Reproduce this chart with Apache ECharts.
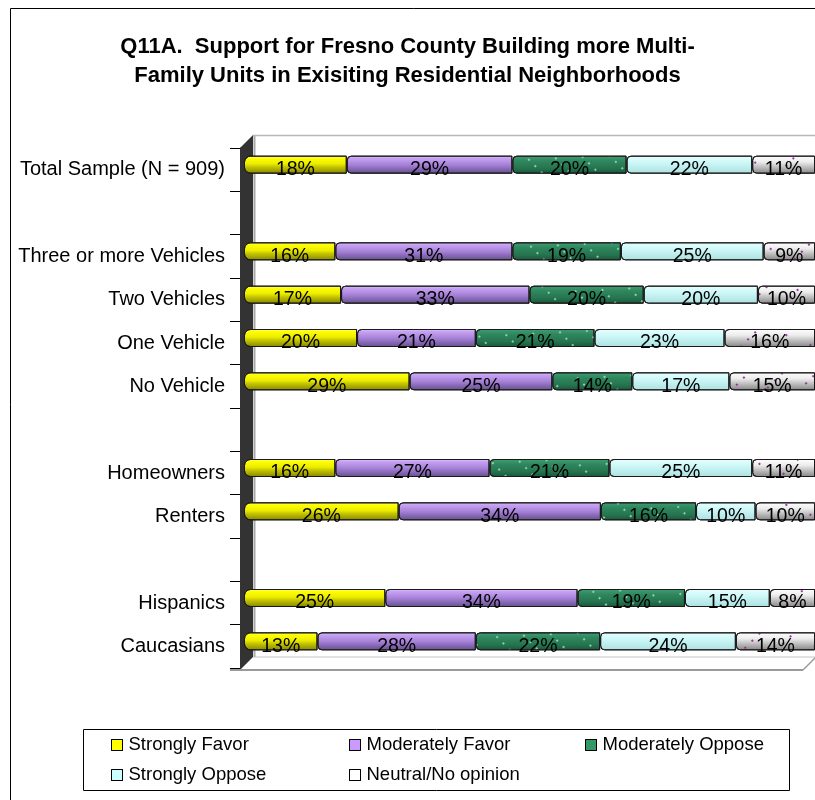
<!DOCTYPE html>
<html>
<head>
<meta charset="utf-8">
<script src="https://cdn.jsdelivr.net/npm/echarts@6/dist/echarts.min.js"></script>
<style>
  html, body { margin: 0; padding: 0; background: #fff; }
  #chart { width: 815px; height: 800px; }
</style>
</head>
<body>
<div id="chart"></div>
<script>
// Row labels (blank rows separate the groups)
const categories = [
  'Total Sample (N = 909)', '',
  'Three or more Vehicles', 'Two Vehicles', 'One Vehicle', 'No Vehicle', ' ',
  'Homeowners', 'Renters', '  ',
  'Hispanics', 'Caucasians'
];

// Survey shares in percent, one array per answer
const strongFavor  = [18, null, 16, 17, 20, 29, null, 16, 26, null, 25, 13];
const modFavor     = [29, null, 31, 33, 21, 25, null, 27, 34, null, 34, 28];
const modOppose    = [20, null, 19, 20, 21, 14, null, 21, 16, null, 19, 22];
const strongOppose = [22, null, 25, 20, 23, 17, null, 25, 10, null, 15, 24];
const neutral      = [11, null,  9, 10, 16, 15, null, 11, 10, null,  8, 14];

const seriesNames = ['Strongly Favor', 'Moderately Favor', 'Moderately Oppose', 'Strongly Oppose', 'Neutral/No opinion'];
const seriesValues = [strongFavor, modFavor, modOppose, strongOppose, neutral];

// Geometry of the pseudo-3D frame
const AXIS_X = 240, AXIS_TOP = 148, AXIS_H = 520;
const AXIS_BOTTOM = AXIS_TOP + AXIS_H;
const DEPTH = 13;
const BAR_LEFT = 244, BAR_SPAN = 571, BAR_RAISE = 5;
const FONT = 'Arial, "Liberation Sans", sans-serif';

// 100% stacked: each row is scaled to its own total
const rowTotals = categories.map((_, i) =>
  seriesValues.reduce((s, arr) => s + (arr[i] == null ? 0 : arr[i]), 0));

function grad(stops) {
  return new echarts.graphic.LinearGradient(0, 0, 0, 1,
    stops.map(([offset, color]) => ({ offset, color })));
}

const fills = [
  grad([[0, '#fbfb9a'], [0.14, '#ffff00'], [0.45, '#ecec00'], [0.62, '#c6c600'], [1, '#858500']]),
  grad([[0, '#e2ccff'], [0.14, '#c7a2f4'], [0.5, '#a783d8'], [0.7, '#8c6cbc'], [1, '#65508a']]),
  grad([[0, '#3f9f72'], [0.3, '#2f875e'], [0.7, '#25744f'], [1, '#185638']]),
  grad([[0, '#e8ffff'], [0.4, '#ccf7f7'], [1, '#ace0e0']]),
  grad([[0, '#ffffff'], [0.35, '#ececec'], [0.7, '#b4b4b4'], [1, '#858585']])
];
const legendFills = ['#ffff00', '#cc99ff', '#339966', '#ccffff', '#ffffff'];
// dotted texture only on the two patterned answers
const plain = { symbol: 'rect', symbolSize: 1, dashArrayX: [1, 0], dashArrayY: [1, 0], color: 'rgba(0,0,0,0)' };
const decals = [
  plain,
  plain,
  { symbol: 'rect', symbolSize: 1, dashArrayX: [2, 18], dashArrayY: [2, 7], color: 'rgba(160,220,185,0.85)' },
  plain,
  { symbol: 'rect', symbolSize: 1, dashArrayX: [2, 22], dashArrayY: [2, 8], color: 'rgba(150,40,150,0.9)' }
];

const series = seriesNames.map((name, k) => ({
  name,
  type: 'bar',
  stack: 'share',
  xAxisIndex: 1,
  yAxisIndex: 1,
  barWidth: 18,
  data: seriesValues[k].map((v, i) => v == null ? null : v / rowTotals[i] * 100),
  itemStyle: {
    color: fills[k],
    borderColor: '#1a1a1a',
    borderWidth: 1,
    borderRadius: k === 0 ? [6, 0, 0, 6] : [4, 0, 0, 4],
    decal: decals[k]
  },
  label: {
    show: true,
    position: 'inside',
    offset: [0, BAR_RAISE],
    color: '#000',
    fontSize: 19.5,
    fontFamily: FONT,
    formatter: p => seriesValues[k][p.dataIndex] + '%'
  },
  emphasis: { disabled: true }
}));

// One legend per entry so the entries sit in fixed columns
const legendSpots = [[111, 735], [349, 735], [585, 735], [111, 765], [349, 765]];
const legends = seriesNames.map((name, k) => ({
  data: [{
    name,
    itemStyle: { color: legendFills[k], borderColor: '#000', borderWidth: 1, decal: plain }
  }],
  left: legendSpots[k][0],
  top: legendSpots[k][1],
  padding: 0,
  icon: 'rect',
  itemWidth: 11,
  itemHeight: 11,
  selectedMode: false,
  textStyle: { color: '#000', fontSize: 18.5, fontFamily: FONT, lineHeight: 20, padding: [0, 0, 0, 1] }
}));

const chart = echarts.init(document.getElementById('chart'));
chart.setOption({
  backgroundColor: '#fff',
  animation: false,
  aria: { enabled: true, decal: { show: true } },
  title: {
    text: 'Q11A.  Support for Fresno County Building more Multi-\nFamily Units in Exisiting Residential Neighborhoods',
    left: 'center',
    top: 32,
    padding: [0, 0, 0, 5],
    textStyle: { color: '#000', fontSize: 22, fontWeight: 'bold', fontFamily: FONT, lineHeight: 29 }
  },
  legend: legends,
  grid: [
    { left: AXIS_X, top: AXIS_TOP, width: 575, height: AXIS_H },
    { left: BAR_LEFT, top: AXIS_TOP - BAR_RAISE, width: BAR_SPAN, height: AXIS_H }
  ],
  xAxis: [
    { type: 'value', gridIndex: 0, show: false, min: 0, max: 100 },
    { type: 'value', gridIndex: 1, show: false, min: 0, max: 100 }
  ],
  yAxis: [
    {
      type: 'category',
      gridIndex: 0,
      inverse: true,
      data: categories,
      axisLine: { show: true, lineStyle: { color: '#000', width: 1 } },
      axisTick: { show: true, length: 10, lineStyle: { color: '#000' } },
      axisLabel: { color: '#000', fontSize: 20, fontFamily: FONT, margin: 15 },
      splitLine: { show: false }
    },
    {
      type: 'category',
      gridIndex: 1,
      inverse: true,
      data: categories,
      show: false
    }
  ],
  graphic: [
    // outer chart border
    { type: 'rect', z: 0, shape: { x: 10.5, y: 8.5, width: 900, height: 900 },
      style: { fill: 'none', stroke: '#000', lineWidth: 1 } },
    // left side wall
    { type: 'polygon', z: 1, shape: { points: [
        [AXIS_X, AXIS_TOP], [AXIS_X + DEPTH, AXIS_TOP - DEPTH],
        [AXIS_X + DEPTH, AXIS_BOTTOM + 2 - DEPTH], [AXIS_X, AXIS_BOTTOM + 2]] },
      style: { fill: '#333333' } },
    // back wall edges
    { type: 'line', z: 1, shape: { x1: AXIS_X + DEPTH + 1.5, y1: AXIS_TOP - DEPTH, x2: AXIS_X + DEPTH + 1.5, y2: AXIS_BOTTOM + 2 - DEPTH },
      style: { stroke: '#a8a8a8', lineWidth: 2 } },
    { type: 'line', z: 1, shape: { x1: AXIS_X + DEPTH, y1: AXIS_TOP - DEPTH + 0.5, x2: 830, y2: AXIS_TOP - DEPTH + 0.5 },
      style: { stroke: '#b8b8b8', lineWidth: 1.5 } },
    // floor
    { type: 'line', z: 1, shape: { x1: AXIS_X + DEPTH, y1: AXIS_BOTTOM + 2 - DEPTH, x2: 830, y2: AXIS_BOTTOM + 2 - DEPTH },
      style: { stroke: '#c4c4c4', lineWidth: 1 } },
    { type: 'line', z: 1, shape: { x1: AXIS_X - 10, y1: AXIS_BOTTOM + 2, x2: 803, y2: AXIS_BOTTOM + 2 },
      style: { stroke: '#9a9a9a', lineWidth: 2 } },
    { type: 'line', z: 1, shape: { x1: 803, y1: AXIS_BOTTOM + 2, x2: 803 + DEPTH, y2: AXIS_BOTTOM + 2 - DEPTH },
      style: { stroke: '#9a9a9a', lineWidth: 1.5 } },
    // legend box
    { type: 'rect', z: 1, shape: { x: 83.5, y: 729.5, width: 706, height: 61 },
      style: { fill: 'none', stroke: '#000', lineWidth: 1 } }
  ],
  series
});
</script>
</body>
</html>
